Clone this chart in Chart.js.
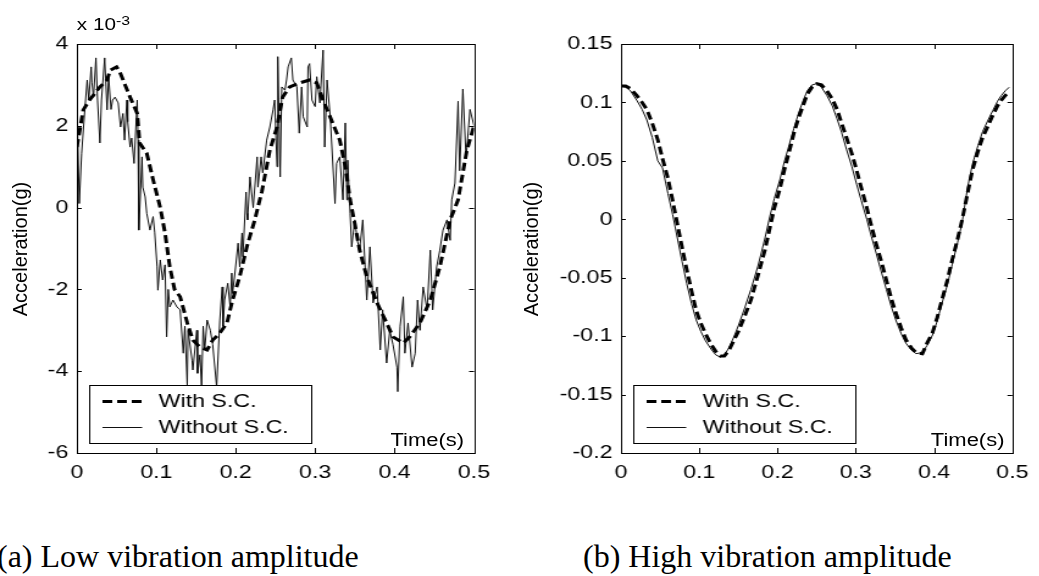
<!DOCTYPE html>
<html>
<head>
<meta charset="utf-8">
<script src="https://cdn.jsdelivr.net/npm/chart.js@4.4.1/dist/chart.umd.min.js"></script>
<style>
  html, body { margin: 0; padding: 0; background: #fff; }
  body { width: 1039px; height: 576px; position: relative; overflow: hidden;
         font-family: 'Liberation Sans', Arial, sans-serif; color: #000; }
  /* the original figure is stretched sideways, so the plot stage is too */
  #stage { position: absolute; left: 0; top: 0; width: 852px; height: 500px;
           transform: scaleX(1.22); transform-origin: 0 0; }
  .panel { position: absolute; top: 0; height: 500px; }
  .exp { position: absolute; left: 63px; top: 15px; font-size: 17px; line-height: 20px; white-space: nowrap; }
  .exp sup { font-size: 13px; position: relative; top: -4px; vertical-align: top; }
  .timeLabel { position: absolute; top: 429px; font-size: 18px; line-height: 22px; white-space: nowrap; }
  .yTitle { position: absolute; top: 238px; width: 200px; margin-left: -100px; text-align: center;
            font-size: 20px; line-height: 22px; transform: rotate(-90deg); white-space: nowrap; }
  .caption { position: absolute; top: 540px; font-family: 'Liberation Serif', 'Times New Roman', serif;
             font-size: 32px; line-height: 32px; white-space: nowrap; }
</style>
</head>
<body>
<div id="stage">
  <div class="panel" style="left:0;width:425px"><canvas id="lowChart" width="425" height="500"></canvas></div>
  <div class="panel" style="left:425px;width:426px"><canvas id="highChart" width="426" height="500"></canvas></div>
  <div class="exp">x 10<sup>-3</sup></div>
  <div class="timeLabel" style="left:320px">Time(s)</div>
  <div class="timeLabel" style="left:763px">Time(s)</div>
</div>
<div class="yTitle" style="left:20px">Acceleration(g)</div>
<div class="yTitle" style="left:531px">Acceleration(g)</div>
<div class="caption" style="left:-3px">(a) Low vibration amplitude</div>
<div class="caption" style="left:583px">(b) High vibration amplitude</div>

<script>
// low amplitude panel, values in units of 1e-3 g
const lowWithTime = [0, 0.008, 0.016, 0.029, 0.038, 0.042, 0.050, 0.054, 0.067, 0.076, 0.079, 0.088, 0.096,
    0.105, 0.111, 0.117, 0.123, 0.130, 0.139, 0.146, 0.155, 0.164, 0.171, 0.180, 0.189, 0.196, 0.205, 0.214,
    0.224, 0.233, 0.243, 0.252, 0.259, 0.268, 0.281, 0.293, 0.302, 0.310, 0.322, 0.331, 0.338, 0.344, 0.350,
    0.356, 0.365, 0.378, 0.390, 0.398, 0.411, 0.419, 0.432, 0.445, 0.457, 0.470, 0.480, 0.491, 0.5];
const lowWith = [1.48, 2.39, 2.63, 2.95, 3.12, 3.36, 3.44, 3.32, 2.7, 2.3, 1.58, 1.33, 0.68,
    0.0, -0.62, -1.45, -2.0, -2.18, -2.82, -3.24, -3.41, -3.48, -3.24, -3.07, -2.82, -2.26, -1.69, -0.96,
    -0.3, 0.4, 1.41, 1.97, 2.7, 2.95, 3.05, 3.12, 3.05, 2.63, 2.07, 1.65, 1.0, 0.19, -0.4,
    -1.04, -1.69, -2.33, -2.82, -3.16, -3.31, -3.16, -2.82, -2.26, -1.45, -0.3, 0.19, 1.4, 2.0];

const lowWithoutTime = [0, 0.003, 0.006, 0.010, 0.013, 0.015, 0.018, 0.019, 0.021, 0.024, 0.026, 0.029, 0.031,
    0.035, 0.038, 0.040, 0.043, 0.045, 0.048, 0.052, 0.055, 0.058, 0.060, 0.063, 0.064, 0.067, 0.069, 0.072,
    0.076, 0.077, 0.078, 0.082, 0.083, 0.086, 0.088, 0.092, 0.096, 0.098, 0.101, 0.102, 0.105, 0.108, 0.111,
    0.113, 0.115, 0.117, 0.121, 0.126, 0.130, 0.134, 0.136, 0.139, 0.140, 0.145, 0.146, 0.151, 0.152, 0.155,
    0.157, 0.159, 0.161, 0.164, 0.168, 0.171, 0.176, 0.180, 0.183, 0.184, 0.186, 0.190, 0.193, 0.195, 0.196,
    0.199, 0.203, 0.205, 0.208, 0.209, 0.213, 0.214, 0.215, 0.218, 0.222, 0.227, 0.228, 0.232, 0.234, 0.239,
    0.243, 0.247, 0.249, 0.252, 0.253, 0.256, 0.258, 0.262, 0.264, 0.266, 0.270, 0.272, 0.277, 0.280, 0.283,
    0.285, 0.290, 0.291, 0.293, 0.296, 0.300, 0.302, 0.306, 0.310, 0.312, 0.315, 0.319, 0.325, 0.327, 0.331,
    0.335, 0.338, 0.340, 0.341, 0.344, 0.346, 0.350, 0.353, 0.356, 0.360, 0.365, 0.369, 0.373, 0.378, 0.382,
    0.385, 0.390, 0.394, 0.398, 0.403, 0.404, 0.407, 0.411, 0.413, 0.417, 0.422, 0.426, 0.429, 0.432, 0.436,
    0.441, 0.445, 0.448, 0.453, 0.457, 0.461, 0.466, 0.470, 0.472, 0.476, 0.480, 0.482, 0.486, 0.490, 0.495, 0.5];
const lowWithout = [2.67, 0.1, 1.33, 2.39, 3.12, 2.63, 3.44, 3.05, 2.7, 3.66, 2.63, 1.58, 2.63,
    3.66, 2.39, 3.2, 2.4, 2.63, 2.7, 2.56, 1.97, 2.3, 1.65, 2.63, 2.1, 1.48, 1.7, 1.08,
    2.63, 1.65, -0.55, 1.24, 0.5, 0.26, -0.14, -0.55, -0.22, -0.6, -1.45, -2.02, -1.28, -1.77, -1.4,
    -3.16, -2.0, -2.43, -2.26, -2.43, -2.5, -3.56, -2.9, -4.38, -3.0, -3.73, -3.97, -3.0, -4.05, -3.6,
    -4.38, -2.9, -3.48, -2.75, -3.0, -3.35, -4.38, -2.75, -1.94, -2.9, -2.26, -1.85, -2.43, -1.6, -2.1,
    -1.6, -0.87, -1.45, -0.62, -1.2, 0.38, -0.14, -0.3, 0.75, 0.0, 1.24, 0.5, 1.24, 0.85, 1.65,
    1.97, 2.39, 2.63, 1.0, 3.69, 0.75, 2.95, 2.87, 3.12, 3.44, 3.66, 3.12, 2.95, 1.82, 2.95,
    2.22, 1.97, 3.44, 3.52, 2.63, 2.47, 3.2, 2.56, 3.85, 1.48, 3.12, 2.22, 0.1, 1.08, 1.24,
    0.19, 2.07, 0.19, 1.16, -0.14, -0.96, -0.3, -0.8, -1.02, -0.3, -2.26, -0.96, -2.33, -1.94, -3.48,
    -2.5, -3.8, -3.0, -3.35, -3.9, -4.5, -2.9, -2.18, -3.56, -2.82, -3.9, -3.56, -2.26, -3.0, -1.94,
    -2.5, -1.04, -2.5, -1.45, -1.04, -0.55, -0.3, -0.8, 0.19, 0.6, 2.6, 0.9, 2.9, 1.2, 2.4, 2.0];

// high amplitude panel, values in g
const highTime = [0, 0.006, 0.012, 0.020, 0.027, 0.033, 0.040, 0.047, 0.053, 0.060, 0.066, 0.072, 0.078,
    0.084, 0.090, 0.096, 0.102, 0.108, 0.115, 0.121, 0.127, 0.132, 0.138, 0.144, 0.150, 0.158, 0.166,
    0.175, 0.184, 0.190, 0.196, 0.203, 0.209, 0.215, 0.221, 0.227, 0.233, 0.238, 0.244, 0.250, 0.256,
    0.263, 0.270, 0.276, 0.282, 0.288, 0.295, 0.301, 0.307, 0.314, 0.320, 0.326, 0.333, 0.339, 0.345,
    0.351, 0.358, 0.364, 0.371, 0.377, 0.385, 0.391, 0.398, 0.404, 0.410, 0.417, 0.423, 0.430, 0.436,
    0.443, 0.449, 0.456, 0.462, 0.469, 0.475, 0.481, 0.486, 0.491, 0.496];
const highWith = [0.114, 0.114, 0.112, 0.106, 0.100, 0.094, 0.082, 0.068, 0.052, 0.035, 0.016, -0.004, -0.024,
    -0.043, -0.061, -0.078, -0.089, -0.098, -0.107, -0.113, -0.117, -0.117, -0.112, -0.104, -0.096, -0.083, -0.069,
    -0.048, -0.026, -0.008, 0.010, 0.026, 0.043, 0.058, 0.074, 0.087, 0.098, 0.107, 0.113, 0.116, 0.115,
    0.110, 0.103, 0.094, 0.082, 0.070, 0.056, 0.042, 0.027, 0.010, -0.006, -0.021, -0.037, -0.052, -0.067,
    -0.080, -0.093, -0.103, -0.110, -0.114, -0.115, -0.106, -0.097, -0.084, -0.069, -0.052, -0.035, -0.017, 0.000,
    0.023, 0.042, 0.058, 0.070, 0.080, 0.089, 0.097, 0.102, 0.106, 0.109];
const highWithout = [0.114, 0.113, 0.110, 0.102, 0.094, 0.085, 0.070, 0.050, 0.044, 0.022, 0.004, -0.016, -0.036,
    -0.055, -0.072, -0.086, -0.096, -0.104, -0.111, -0.116, -0.118, -0.116, -0.110, -0.101, -0.091, -0.076, -0.060,
    -0.040, -0.016, 0.002, 0.018, 0.034, 0.050, 0.064, 0.078, 0.091, 0.102, 0.110, 0.115, 0.116, 0.113,
    0.106, 0.097, 0.086, 0.074, 0.060, 0.045, 0.030, 0.016, 0.000, -0.015, -0.029, -0.046, -0.060, -0.074,
    -0.086, -0.098, -0.106, -0.112, -0.115, -0.114, -0.108, -0.099, -0.087, -0.072, -0.056, -0.039, -0.020, -0.002,
    0.028, 0.047, 0.063, 0.075, 0.085, 0.093, 0.101, 0.106, 0.110, 0.113];

const xTicks = [0, 0.1, 0.2, 0.3, 0.4, 0.5];
const lowYTicks = [-6, -4, -2, 0, 2, 4];
const highYTicks = [-0.2, -0.15, -0.1, -0.05, 0, 0.05, 0.1, 0.15];

const FONT = "'Liberation Sans', Arial, sans-serif";

function toPoints(xs, ys) {
    return xs.map((x, i) => ({ x: x, y: ys[i] }));
}

function fmt(v) {
    return String(Number(v.toFixed(3)));
}

// box around the plot with inward ticks on all four sides, plus the inner legend
const matlabFrame = {
    id: 'matlabFrame',
    afterDraw(chart) {
        const ctx = chart.ctx;
        const a = chart.chartArea;
        const xs = chart.scales.x;
        const ys = chart.scales.y;
        ctx.save();
        ctx.strokeStyle = '#000';
        ctx.lineWidth = 1;
        ctx.strokeRect(Math.round(a.left) + 0.5, Math.round(a.top) + 0.5,
            Math.round(a.right - a.left), Math.round(a.bottom - a.top));
        ctx.beginPath();
        xs.ticks.forEach(t => {
            const px = Math.round(xs.getPixelForValue(t.value)) + 0.5;
            ctx.moveTo(px, a.bottom); ctx.lineTo(px, a.bottom - 5);
            ctx.moveTo(px, a.top); ctx.lineTo(px, a.top + 5);
        });
        ys.ticks.forEach(t => {
            const py = Math.round(ys.getPixelForValue(t.value)) + 0.5;
            ctx.moveTo(a.left, py); ctx.lineTo(a.left + 4, py);
            ctx.moveTo(a.right, py); ctx.lineTo(a.right - 4, py);
        });
        ctx.stroke();

        // legend box in the lower left corner
        const bx = Math.round(a.left + 10) + 0.5;
        const by = Math.round(a.bottom - 68) + 0.5;
        const bw = 182, bh = 58;
        ctx.fillStyle = '#fff';
        ctx.fillRect(bx, by, bw, bh);
        ctx.strokeRect(bx, by, bw, bh);
        ctx.font = '19px ' + FONT;
        ctx.textBaseline = 'middle';
        chart.data.datasets.forEach((ds, i) => {
            const ry = by + 16 + i * 26;
            ctx.beginPath();
            ctx.lineWidth = ds.borderWidth;
            ctx.setLineDash(ds.borderDash || []);
            ctx.strokeStyle = ds.borderColor;
            ctx.moveTo(bx + 10.5, ry);
            ctx.lineTo(bx + 43, ry);
            ctx.stroke();
            ctx.setLineDash([]);
            ctx.fillStyle = '#000';
            ctx.fillText(ds.label, bx + 56.5, ry);
        });
        ctx.restore();
    }
};

function makeChart(id, sets, yTicks, yWidth, padRight) {
    const ctx = document.getElementById(id).getContext('2d');
    return new Chart(ctx, {
        type: 'line',
        data: {
            datasets: [{
                label: 'With S.C.',
                data: sets.withData,
                borderColor: '#000',
                borderWidth: 3,
                borderDash: [8, 4],
                pointRadius: 0,
                tension: 0,
                fill: false
            }, {
                label: 'Without S.C.',
                data: sets.withoutData,
                borderColor: '#111',
                borderWidth: 1,
                pointRadius: 0,
                tension: 0,
                fill: false
            }]
        },
        options: {
            responsive: false,
            animation: false,
            events: [],
            layout: { padding: { left: 0, top: 44, right: padRight, bottom: 7 } },
            plugins: { legend: { display: false }, tooltip: { enabled: false } },
            scales: {
                x: {
                    type: 'linear',
                    min: 0,
                    max: 0.5,
                    grid: { display: false, drawTicks: false },
                    border: { display: false },
                    afterBuildTicks: s => { s.ticks = xTicks.map(v => ({ value: v })); },
                    afterFit: s => { s.height = 40; },
                    ticks: {
                        color: '#000',
                        padding: 8,
                        maxRotation: 0,
                        font: { family: FONT, size: 19 },
                        callback: v => fmt(v)
                    }
                },
                y: {
                    type: 'linear',
                    min: yTicks[0],
                    max: yTicks[yTicks.length - 1],
                    grid: { display: false, drawTicks: false },
                    border: { display: false },
                    afterBuildTicks: s => { s.ticks = yTicks.map(v => ({ value: v })); },
                    afterFit: s => { s.width = yWidth; },
                    ticks: {
                        color: '#000',
                        padding: 7,
                        font: { family: FONT, size: 19 },
                        callback: v => fmt(v)
                    }
                }
            }
        },
        plugins: [matlabFrame]
    });
}

makeChart('lowChart', {
    withData: toPoints(lowWithTime, lowWith),
    withoutData: toPoints(lowWithoutTime, lowWithout)
}, lowYTicks, 63, 36.5);

makeChart('highChart', {
    withData: toPoints(highTime, highWith),
    withoutData: toPoints(highTime, highWithout)
}, highYTicks, 84, 16.6);
</script>
</body>
</html>
